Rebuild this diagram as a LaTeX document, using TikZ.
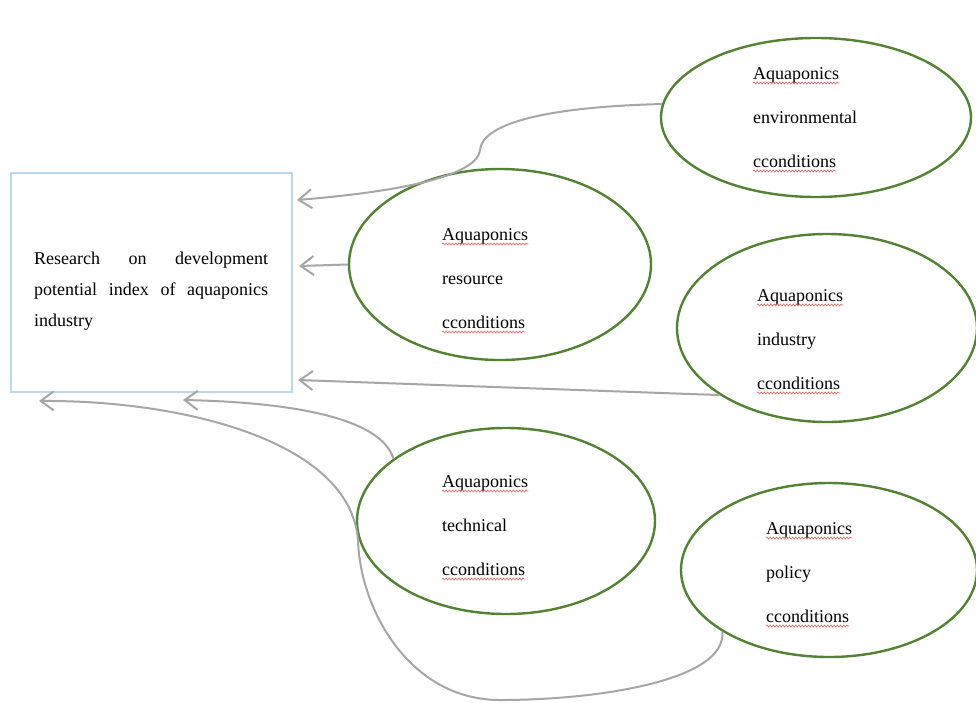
\documentclass[tikz,border=0pt]{standalone}
\usepackage{fontspec}
\setmainfont{Liberation Serif}
\usetikzlibrary{arrows.meta,shapes.geometric,decorations.pathmorphing}
\definecolor{egreen}{HTML}{548235}
\definecolor{rblue}{HTML}{BDD7EE}
\definecolor{cgray}{HTML}{A6A6A6}
\definecolor{sred}{HTML}{F07070}
\tikzset{
 bubble/.style={ellipse, draw=egreen, line width=2.4pt, inner sep=0pt},
 mainbox/.style={draw=rblue, line width=1.8pt, inner sep=0pt},
 lbl/.style={anchor=base west, inner sep=0pt, font=\fontsize{18}{22}\selectfont},
 conn/.style={draw=cgray, line width=2pt, -{Straight Barb[length=13pt,width=19pt]}},
 squig/.style={draw=sred, line width=0.7pt, decorate, decoration={snake, amplitude=1pt, segment length=3.2pt}},
}
\newcommand\bubbletext[4]{%
 \node[lbl] (#1a) at (#2,#3) {Aquaponics};
 \node[lbl] (#1b) at (#2,#3+44) {#4};
 \node[lbl] (#1c) at (#2,#3+88) {cconditions};
 \draw[squig] ([yshift=-4pt]#1a.base west) -- ([yshift=-4pt]#1a.base east);
 \draw[squig] ([yshift=-4pt]#1c.base west) -- ([yshift=-4pt]#1c.base east);
}
\begin{document}
\begin{tikzpicture}[x=1pt,y=-1pt]
\path[use as bounding box, fill=white] (0,0) rectangle (976,702);
% main box
\node[mainbox, minimum width=281pt, minimum height=219pt] (main) at (151.5,282.5) {};
\node[lbl] (m1) at (34,264) {\makebox[234pt][s]{Research on development}};
\node[lbl] (m2) at (34,295) {\makebox[234pt][s]{potential index of aquaponics}};
\node[lbl] (m3) at (34,326) {industry};
% ellipses
\node[bubble, minimum width=310pt, minimum height=159pt] (env) at (816,117.5) {};
\node[bubble, minimum width=302pt, minimum height=191pt] (res) at (500,264.5) {};
\node[bubble, minimum width=300pt, minimum height=188pt] (ind) at (827,328) {};
\node[bubble, minimum width=298pt, minimum height=186pt] (tech) at (506,521) {};
\node[bubble, minimum width=296pt, minimum height=174pt] (pol) at (829,570) {};
\bubbletext{e}{753}{79}{environmental}
\bubbletext{r}{442}{240}{resource}
\bubbletext{i}{757}{301}{industry}
\bubbletext{t}{442}{487}{technical}
\bubbletext{p}{766}{534}{policy}
% arrow tips
\coordinate (tipE) at (297,200);
\coordinate (tipR) at (299,266);
\coordinate (tipI) at (298,380);
\coordinate (tipT) at (183,400);
\coordinate (tipP) at (39,401);
% connectors
\draw[conn] (env.175) .. controls (540,107) and (482,125) .. (480,150) .. controls (478,172) and (420,190) .. (tipE);
\draw[conn] (res.west) -- (tipR);
\draw[conn] (ind.212) -- (tipI);
\draw[conn] (tech.151) .. controls (380,415) and (280,402) .. (tipT);
\draw[conn] (pol.210) .. controls (727,680) and (600,700) .. (500,700) .. controls (410,700) and (360,610) .. (358,540) .. controls (350,440) and (180,400) .. (tipP);
\end{tikzpicture}
\end{document}
